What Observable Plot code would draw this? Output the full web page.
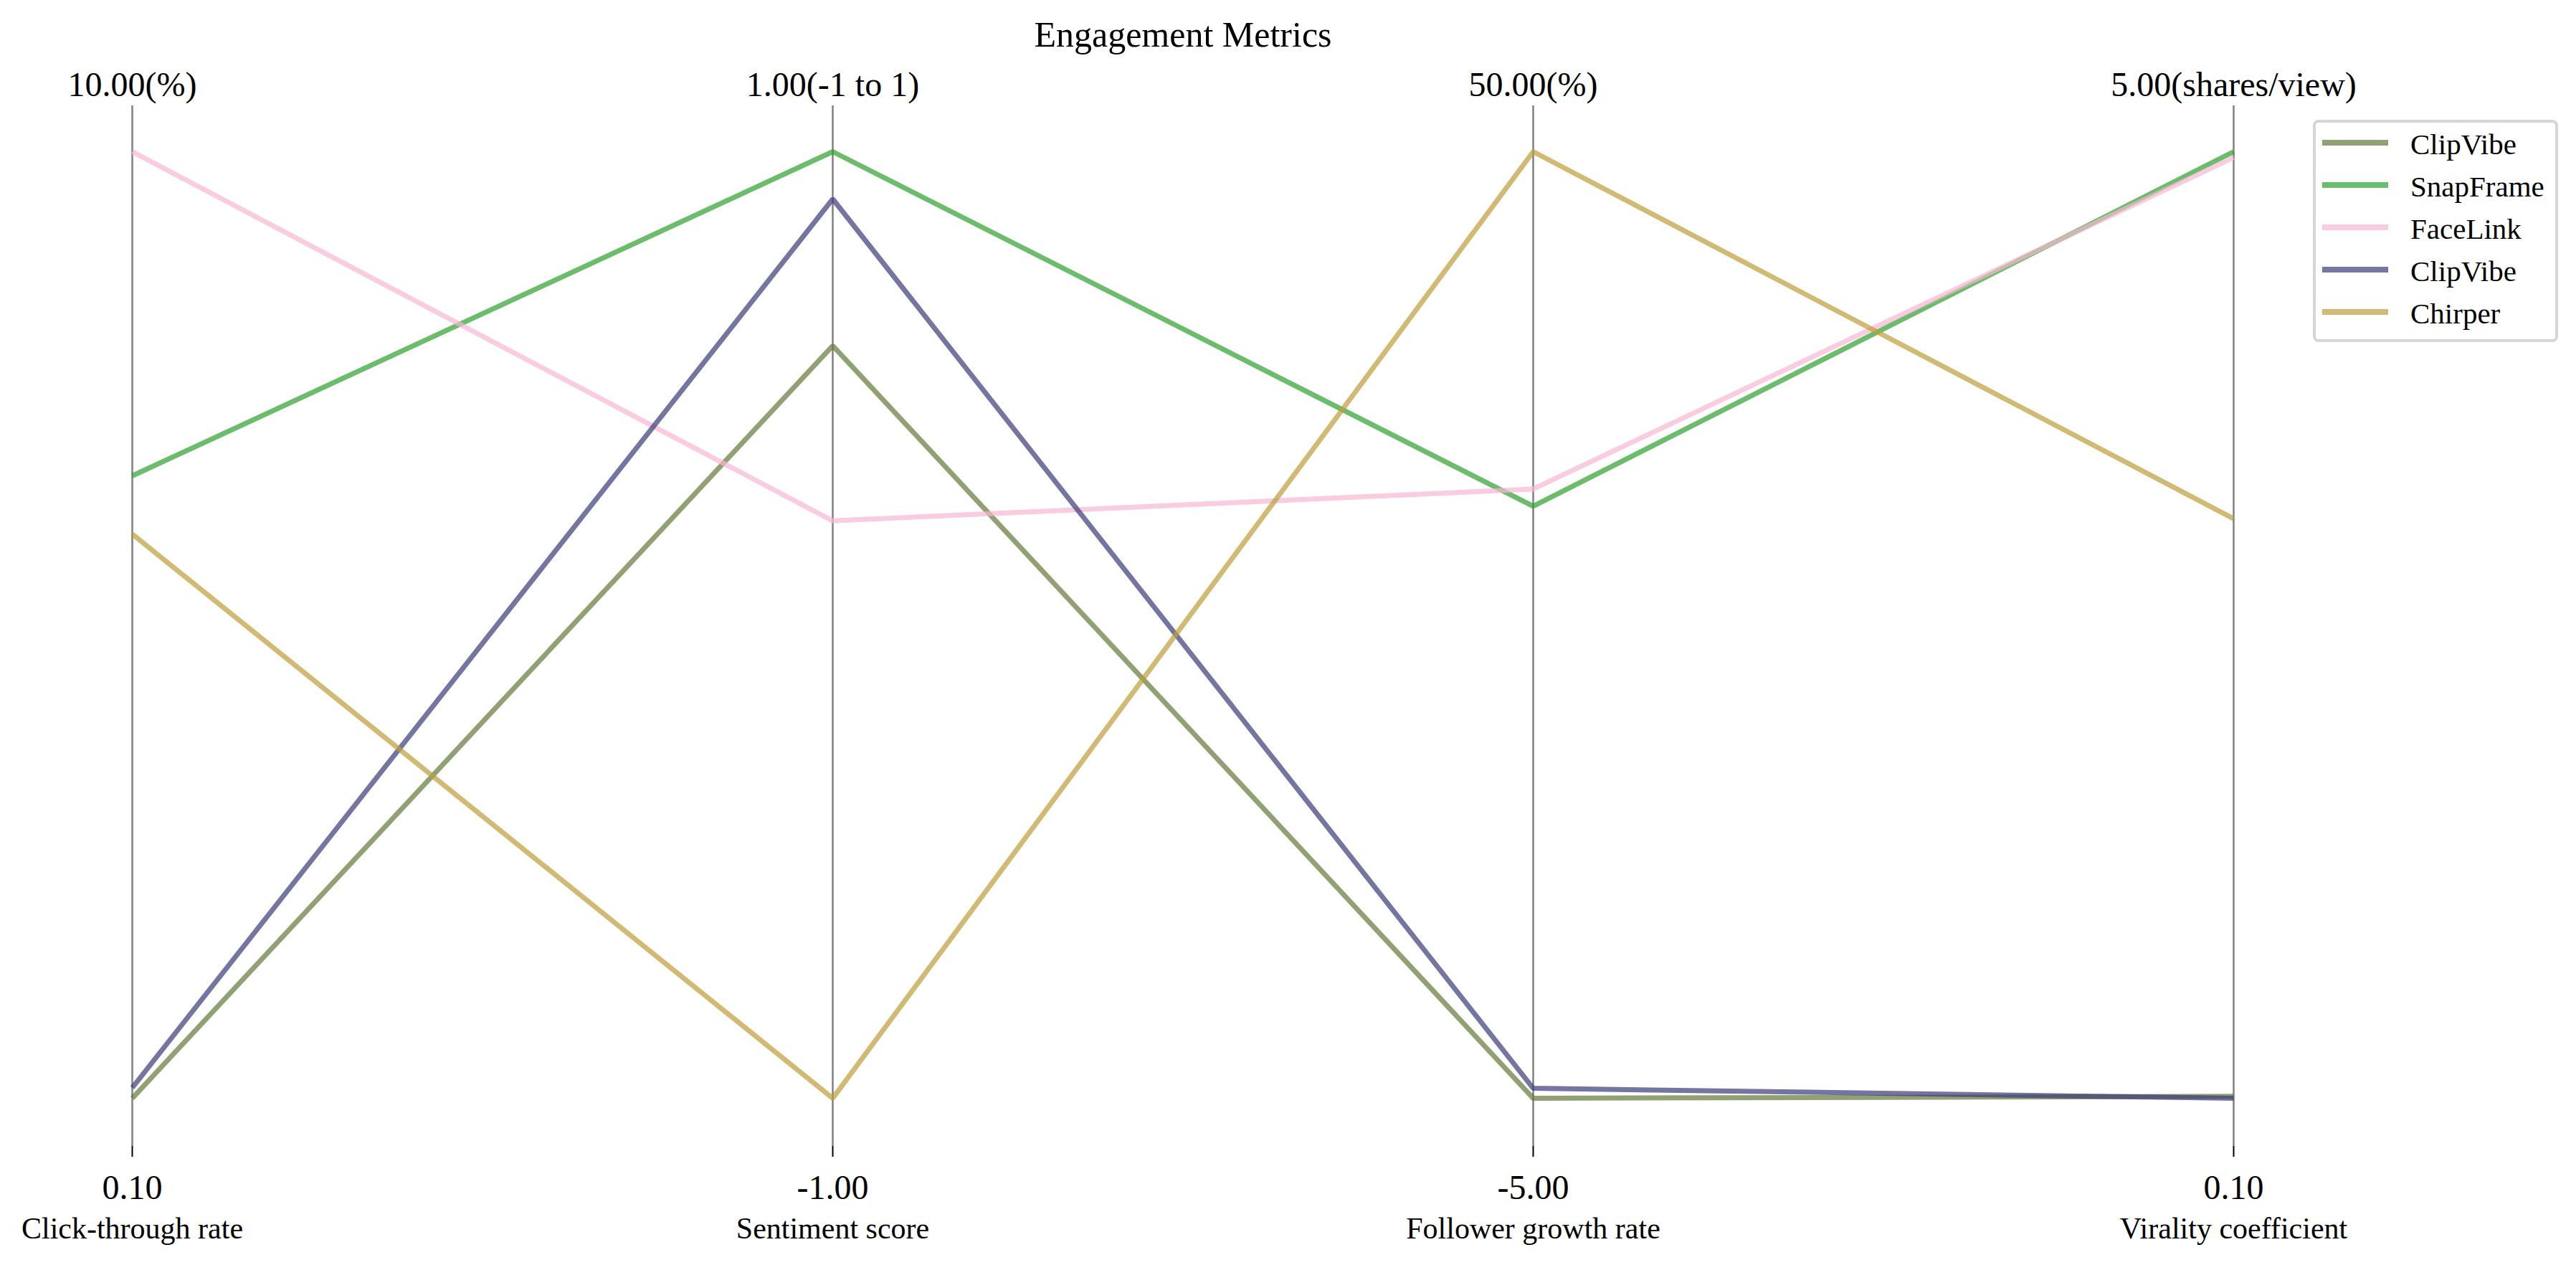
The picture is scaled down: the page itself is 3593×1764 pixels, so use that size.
<!DOCTYPE html>
<html>
<head>
<meta charset="utf-8">
<script src="https://cdn.jsdelivr.net/npm/d3@7"></script>
<script src="https://cdn.jsdelivr.net/npm/@observablehq/plot@0.6"></script>
<style>
  body { margin: 0; background: #fff; }
  #wrap { position: relative; width: 3593px; height: 1764px; font-family: "Liberation Serif", "Times New Roman", serif; color: #000; background: #fff; }
  #title { height: 100px; width: 3300px; box-sizing: border-box; padding-top: 23px; text-align: center; font-size: 50px; line-height: 50px; }
  #chart svg { display: block; }
  #legend { position: absolute; left: 3226px; top: 167px; width: 342px; height: 310px; box-sizing: border-box; border: 4px solid #d6d6d6; border-radius: 8px; background: #fff; }
  .item { position: absolute; left: 0; height: 50px; width: 330px; }
  .sw { position: absolute; left: 9px; top: 21px; width: 92px; height: 8px; opacity: 0.7; }
  .lab { position: absolute; left: 132px; top: 2px; font-size: 41px; line-height: 50px; white-space: nowrap; }
</style>
</head>
<body>
<div id="wrap">
  <div id="title">Engagement Metrics</div>
  <div id="chart"></div>
  <div id="legend"></div>
</div>
<script>
// Dimensions (axes)
const dims = ["Click-through rate", "Sentiment score", "Follower growth rate", "Virality coefficient"];
const mins = [0.1, -1, -5, 0.1];
const maxs = [10, 1, 50, 5];
const units = ["%", "-1 to 1", "%", "shares/view"];

// Series
const platforms = ["ClipVibe", "SnapFrame", "FaceLink", "ClipVibe", "Chirper"];
const clickThrough = [0.1, 6.61, 10.0, 0.21, 6.0];
const sentiment = [0.59, 1.0, 0.22, 0.9, -1.0];
const followerGrowth = [-5, 29.4, 30.4, -4.42, 50];
const virality = [0.11, 5.0, 4.97, 0.1, 3.1];
const colors = ["#637939", "#2ca02c", "#f7b6d2", "#393b79", "#bd9e39"];

const columns = [clickThrough, sentiment, followerGrowth, virality];
const rows = [];
platforms.forEach((p, i) => {
  dims.forEach((d, j) => {
    rows.push({id: i, name: p, dim: d, v: (columns[j][i] - mins[j]) / (maxs[j] - mins[j])});
  });
});

const font = '"Liberation Serif", "Times New Roman", serif';

const chart = Plot.plot({
  width: 3593,
  height: 1664,
  marginTop: 47,
  marginBottom: 166,
  marginLeft: 0,
  marginRight: 0,
  style: {fontFamily: font, background: "#fff", color: "#000", overflow: "visible"},
  x: {type: "point", domain: dims, range: [183, 3115], padding: 0},
  y: {domain: [0, 1], range: [1431, 111], axis: null},
  color: {type: "ordinal", domain: d3.range(platforms.length), range: colors},
  marks: [
    Plot.ruleX(dims, {stroke: "#808080", strokeWidth: 2.5}),
    Plot.axisX({anchor: "top", tickSize: 0, tickPadding: 14, fontSize: 48, label: null,
      tickFormat: d => { const j = dims.indexOf(d); return maxs[j].toFixed(2) + "(" + units[j] + ")"; }}),
    Plot.axisX({anchor: "bottom", tickSize: 15, tickPadding: 24, fontSize: 48, label: null, strokeWidth: 2,
      tickFormat: d => mins[dims.indexOf(d)].toFixed(2)}),
    Plot.axisX({anchor: "bottom", tickSize: 0, tickPadding: 99, fontSize: 42, label: null,
      tickFormat: d => d}),
    Plot.line(rows, {x: "dim", y: "v", z: "id", stroke: "id", strokeWidth: 7, strokeOpacity: 0.7,
      strokeLinecap: "butt", strokeLinejoin: "miter"})
  ]
});
document.getElementById("chart").appendChild(chart);

// Legend
const legend = document.getElementById("legend");
platforms.forEach((p, i) => {
  const item = document.createElement("div");
  item.className = "item";
  item.style.top = (3 + i * 59) + "px";
  const sw = document.createElement("div");
  sw.className = "sw";
  sw.style.background = colors[i];
  const lab = document.createElement("div");
  lab.className = "lab";
  lab.textContent = p;
  item.appendChild(sw);
  item.appendChild(lab);
  legend.appendChild(item);
});
</script>
</body>
</html>
